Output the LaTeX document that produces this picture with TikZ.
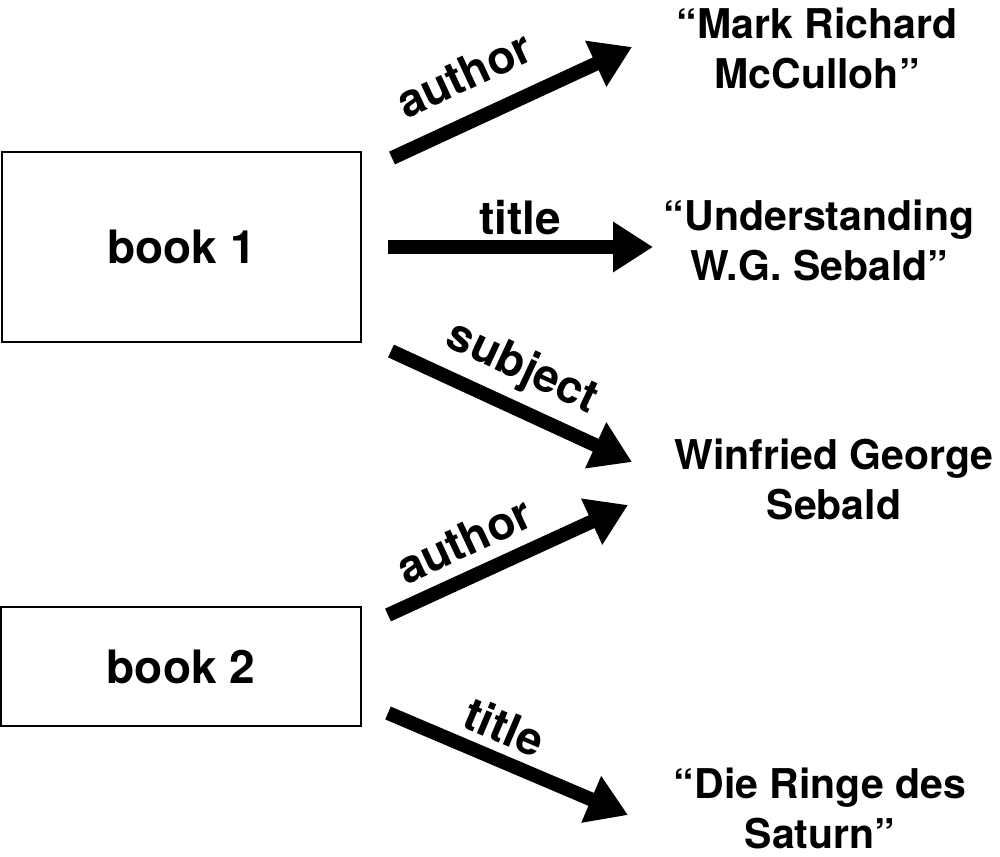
\documentclass[tikz,border=0pt]{standalone}
\usepackage{fontspec}
\setmainfont{TeX Gyre Heros}
\usetikzlibrary{arrows.meta}
\tikzset{
  bookbox/.style={draw=black, line width=1pt, inner sep=0pt, font=\fontsize{23}{27}\selectfont\bfseries},
  rel/.style={line width=7pt, -{Triangle[length=20pt,width=24pt]}},
  rellabel/.style={inner sep=0pt, font=\fontsize{23}{27}\selectfont\bfseries},
  value/.style={inner sep=0pt, align=center, font=\fontsize{20.5}{25}\selectfont\bfseries}
}
\begin{document}
\begin{tikzpicture}[x=0.5pt,y=-0.5pt]
\useasboundingbox (0,0) rectangle (1000,856);
\node[bookbox, minimum width=179.5pt, minimum height=95pt] (b1) at (181.5,247) {book 1};
\node[bookbox, minimum width=180pt, minimum height=59.5pt] (b2) at (181,666.5) {book 2};

\node[value] (v1) at (817,48) {“Mark Richard\\McCulloh”};
\node[value] (v2) at (819,240) {“Understanding\\W.G. Sebald”};
\node[value] (v3) at (834,479) {Winfried George\\Sebald};
\node[value] (v4) at (820,808) {“Die Ringe des\\Saturn”};

\coordinate (t1) at (392,158); \coordinate (h1) at (632,47);
\coordinate (t2) at (388,247); \coordinate (h2) at (653,247);
\coordinate (t3) at (391,351); \coordinate (h3) at (632,462);
\coordinate (t4) at (388,615); \coordinate (h4) at (628,505);
\coordinate (t5) at (388,713); \coordinate (h5) at (628,815);

\draw[rel] (t1) -- (h1);
\draw[rel] (t2) -- (h2);
\draw[rel] (t3) -- (h3);
\draw[rel] (t4) -- (h4);
\draw[rel] (t5) -- (h5);

\node[rellabel, rotate=25] (l1) at (464,74) {author};
\node[rellabel] (l2) at (520,218) {title};
\node[rellabel, rotate=-25] (l3) at (522,369) {subject};
\node[rellabel, rotate=25] (l4) at (464,540) {author};
\node[rellabel, rotate=-23] (l5) at (505,727) {title};
\end{tikzpicture}
\end{document}
